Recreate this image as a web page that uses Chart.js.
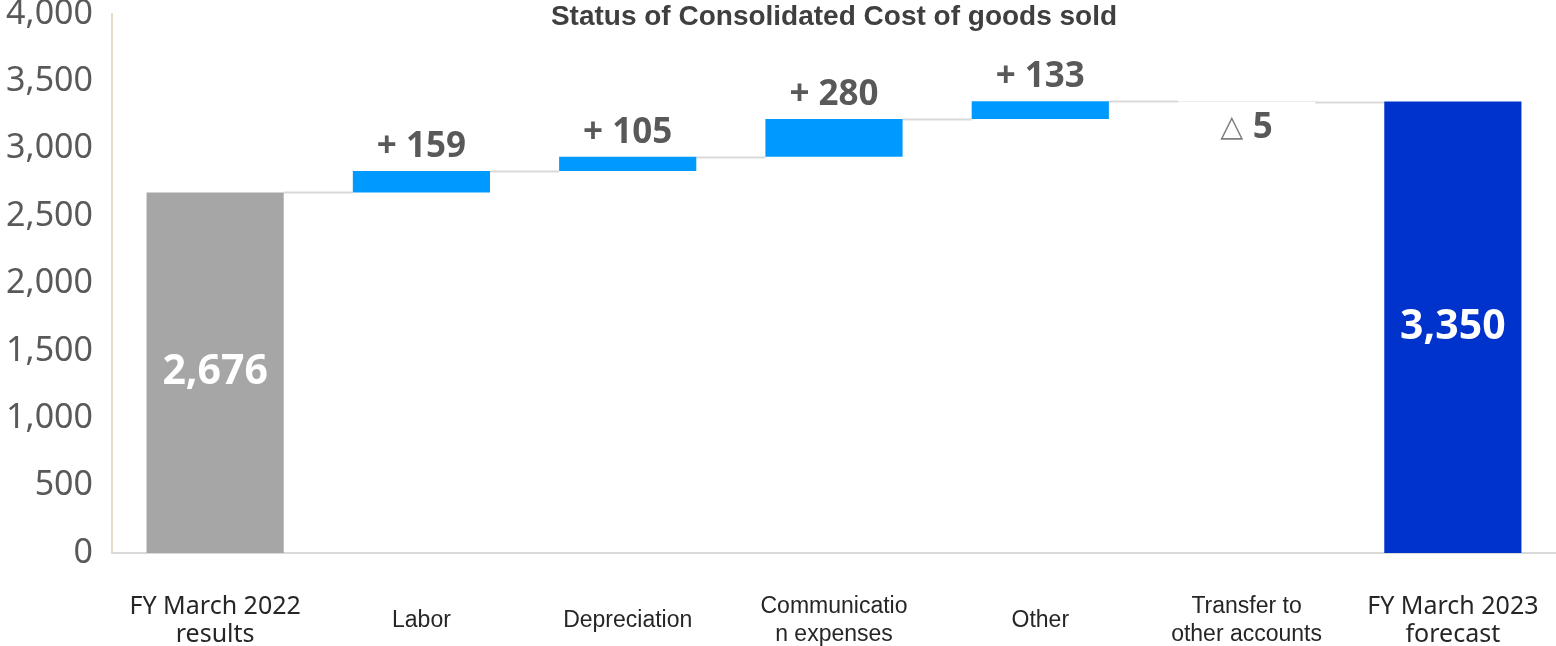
<!DOCTYPE html>
<html>
<head>
<meta charset="utf-8">
<title>Status of Consolidated Cost of goods sold</title>
<script src="https://cdn.jsdelivr.net/npm/chart.js@4.4.1/dist/chart.umd.min.js"></script>
<style>
  html, body { margin: 0; padding: 0; background: #fff; }
  #wrap { width: 1556px; height: 646px; position: relative; }
</style>
</head>
<body>
<div id="wrap"><canvas id="myChart"></canvas></div>
<script>
const ctx = document.querySelector("#myChart").getContext("2d")

// waterfall steps, left to right
const categories = [
  ["FY March 2022", "results"],
  "Labor",
  "Depreciation",
  ["Communicatio", "n expenses"],
  "Other",
  ["Transfer to", "other accounts"],
  ["FY March 2023", "forecast"]
]
const startTotal = 2676
const changes = [159, 105, 280, 133, -5]
const endTotal = 3350
const yTickValues = [0, 500, 1000, 1500, 2000, 2500, 3000, 3500, 4000]

const barColors = ["#a6a6a6", "#0099ff", "#0099ff", "#0099ff", "#0099ff", "#d9d9d9", "#0033cc"]

// floating [from, to] pairs for each bar
const floating = [[0, startTotal]]
let level = startTotal
changes.forEach(c => {
  floating.push([level, level + c])
  level += c
})
floating.push([0, endTotal])

const labelTexts = [startTotal, ...changes, endTotal].map((v, i, arr) => {
  if (i === 0 || i === arr.length - 1) return v.toLocaleString("en-US")
  return v >= 0 ? "+ " + v : "△ " + Math.abs(v)
})

const waterfallExtras = {
  id: "waterfallExtras",
  beforeDatasetsDraw(chart) {
    const c = chart.ctx
    const y = chart.scales.y
    const bars = chart.getDatasetMeta(0).data
    c.save()
    c.strokeStyle = "#d9d9d9"
    c.lineWidth = 2
    for (let i = 0; i < bars.length - 1; i++) {
      const py = Math.round(y.getPixelForValue(floating[i][1])) + 0.5
      c.beginPath()
      c.moveTo(bars[i].x + bars[i].width / 2, py)
      c.lineTo(bars[i + 1].x - bars[i + 1].width / 2, py)
      c.stroke()
    }
    c.restore()
  },
  afterDatasetsDraw(chart) {
    const c = chart.ctx
    const bars = chart.getDatasetMeta(0).data
    c.save()
    c.textAlign = "center"
    c.textBaseline = "middle"
    bars.forEach((bar, i) => {
      const top = Math.min(bar.y, bar.base)
      const bottom = Math.max(bar.y, bar.base)
      const text = labelTexts[i]
      if (i === 0 || i === bars.length - 1) {
        c.fillStyle = "#ffffff"
        c.font = "bold 41px 'Noto Sans'"
        c.fillText(text, bar.x, (top + bottom) / 2)
      } else if (changes[i - 1] >= 0) {
        c.fillStyle = "#595959"
        c.font = "bold 35px 'Noto Sans'"
        c.fillText(text, bar.x, top - 24)
      } else {
        // triangle mark drawn thin, number bold
        const mark = text.slice(0, 2)
        const num = text.slice(2)
        c.font = "30px 'DejaVu Sans'"
        const w1 = c.measureText(mark).width
        c.font = "bold 35px 'Noto Sans'"
        const w2 = c.measureText(num).width
        const x0 = bar.x - (w1 + w2) / 2
        const ty = bottom + 26
        c.textAlign = "left"
        c.fillStyle = "#7f7f7f"
        c.font = "30px 'DejaVu Sans'"
        c.fillText(mark, x0, ty)
        c.fillStyle = "#595959"
        c.font = "bold 35px 'Noto Sans'"
        c.fillText(num, x0 + w1, ty)
        c.textAlign = "center"
      }
    })
    c.restore()
  },
  afterDraw(chart) {
    const c = chart.ctx
    const area = chart.chartArea
    c.save()
    c.fillStyle = "#3f3f3f"
    c.font = "bold 28px 'Liberation Sans'"
    c.textAlign = "center"
    c.textBaseline = "alphabetic"
    c.fillText("Status of Consolidated Cost of goods sold", (area.left + area.right) / 2, 25)
    c.restore()
  }
}

const costChart = new Chart(ctx, {
  type: "bar",
  data: {
    labels: categories,
    datasets: [{
      data: floating,
      backgroundColor: barColors,
      borderWidth: 0,
      categoryPercentage: 1,
      barPercentage: 0.665
    }]
  },
  options: {
    responsive: true,
    maintainAspectRatio: false,
    animation: false,
    layout: { padding: 0 },
    plugins: {
      legend: { display: false },
      tooltip: { enabled: false }
    },
    scales: {
      x: {
        grid: { display: false, drawTicks: false },
        border: { display: true, color: "#d9d9d9", width: 2 },
        ticks: {
          maxRotation: 0,
          minRotation: 0,
          autoSkip: false,
          crossAlign: "center",
          padding: 54,
          color: "#262626",
          font: (c) => {
            const edge = c.index === 0 || c.index === categories.length - 1
            return edge
              ? { family: "'Noto Sans'", size: 25, lineHeight: "28px" }
              : { family: "'Liberation Sans'", size: 23, lineHeight: "28px" }
          }
        },
        afterFit: (scale) => {
          scale.height = 93
          scale.paddingLeft = 0
          scale.paddingRight = 0
        }
      },
      y: {
        min: 0,
        max: 4000,
        grid: { display: false, drawTicks: false },
        border: { display: true, color: "#e2dcc8", width: 2 },
        afterBuildTicks: (scale) => {
          scale.ticks = yTickValues.map(v => ({ value: v }))
        },
        ticks: {
          padding: 19,
          color: "#595959",
          font: { family: "'Noto Sans'", size: 34, lineHeight: 0.85 },
          callback: (v) => v.toLocaleString("en-US")
        },
        afterFit: (scale) => {
          scale.width = 112
          scale.paddingTop = 14
          scale.paddingBottom = 0
        }
      }
    }
  },
  plugins: [waterfallExtras]
})
</script>
</body>
</html>
